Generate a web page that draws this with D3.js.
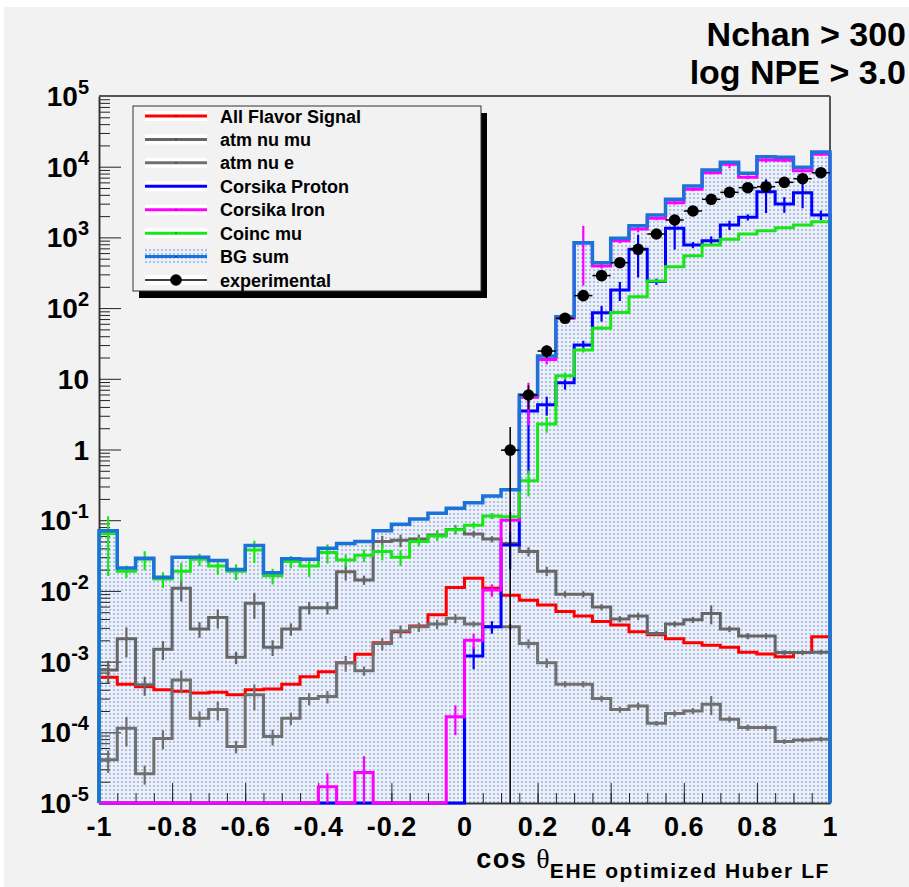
<!DOCTYPE html>
<html><head><meta charset="utf-8">
<script src="https://cdn.jsdelivr.net/npm/d3@7"></script>
<style>
html,body{margin:0;padding:0;background:#ffffff;}
svg{display:block;font-family:"Liberation Sans",Arial,Helvetica,sans-serif;}
</style></head><body>
<svg id="c" width="909" height="887"></svg>
<script>
// ---------------- DATA (40 bins from -1 to 1) ----------------
const binLow = -1, binHigh = 1, nBins = 40;
const yMin = 1e-5, yMax = 1e5;
const xTickValues = [-1, -0.8, -0.6, -0.4, -0.2, 0, 0.2, 0.4, 0.6, 0.8, 1];
const yDecadeExponents = [-5, -4, -3, -2, -1, 0, 1, 2, 3, 4, 5];
const titleLines = ["Nchan > 300", "log NPE > 3.0"];

const signal = [6.0e-4,4.8e-4,4.4e-4,4.0e-4,3.8e-4,3.6e-4,3.7e-4,3.4e-4,4.0e-4,4.1e-4,
  4.8e-4,6.1e-4,7.2e-4,9.6e-4,1.27e-3,1.85e-3,2.65e-3,3.2e-3,4.6e-3,1.12e-2,
  1.51e-2,1.09e-2,8.7e-3,7.4e-3,6.3e-3,5.1e-3,4.4e-3,3.7e-3,3.3e-3,2.65e-3,
  2.4e-3,2.1e-3,1.85e-3,1.7e-3,1.6e-3,1.36e-3,1.28e-3,1.17e-3,1.34e-3,2.25e-3];

const atmNuMu = [7.6e-4,2.1e-3,4.7e-4,1.5e-3,1.09e-2,2.9e-3,4.2e-3,1.15e-3,6.7e-3,1.6e-3,
  2.9e-3,5.8e-3,5.8e-3,1.87e-2,1.43e-2,5.0e-2,5.2e-2,5.4e-2,6.2e-2,7.4e-2,
  6.4e-2,5.4e-2,4.7e-2,3.6e-2,1.9e-2,9.0e-3,9.0e-3,5.9e-3,4.0e-3,4.4e-3,
  2.5e-3,3.4e-3,3.9e-3,4.8e-3,2.9e-3,2.3e-3,2.3e-3,1.34e-3,1.34e-3,1.36e-3];

const atmNuE = [4.1e-5,1.14e-4,2.6e-5,8.2e-5,5.5e-4,1.58e-4,2.1e-4,6.3e-5,3.4e-4,8.7e-5,
  1.58e-4,3.0e-4,3.2e-4,9.6e-4,7.4e-4,1.8e-3,2.7e-3,3.1e-3,3.4e-3,4.1e-3,
  3.4e-3,3.1e-3,3.1e-3,1.8e-3,9.6e-4,4.8e-4,4.8e-4,3.0e-4,2.1e-4,2.35e-4,
  1.34e-4,1.85e-4,2.0e-4,2.5e-4,1.53e-4,1.17e-4,1.17e-4,7.4e-5,7.8e-5,8.0e-5];

const atmNuErr = [0.35,0.45,0.3,0.3,0.35,0.25,0.3,0.2,0.4,0.25,
  0.2,0.2,0.2,0.25,0.15,0.2,0.2,0.15,0.15,0.15,
  0.1,0.1,0.1,0.15,0.15,0.1,0.1,0.1,0.1,0.12,
  0.08,0.1,0.1,0.3,0.1,0.1,0.1,0.08,0.08,0.08];

const corsikaProton = [0,0,0,0,0,0,0,0,0,0,
  0,0,0,0,0,0,0,0,0,0,
  1.2e-3,3.1e-3,4.46e-2,3.5,4.3,8.8,30,86,180,679,
  237,1346,780,898,1497,1924,4430,2966,4295,2075];
const protonErr = [0,0,0,0,0,0,0,0,0,0,
  0,0,0,0,0,0,0,0,0,0,
  0.35,0.2,0.55,0.87,0.3,0.2,0.15,0.25,0.3,0.6,
  0.1,0.5,0.1,0.15,0.15,0.1,0.5,0.25,0.4,0.15];

const corsikaIron = [0,0,0,0,0,0,0,0,0,0,
  0,0,1.7e-5,0,2.7e-5,0,0,0,0,1.66e-4,
  2.0e-3,1.03e-2,0.10,5.5,18.8,72,830,394,898,1315,
  1862,3100,4790,8220,10800,7080,12440,12300,8790,14970];
const ironErr = [0,0,0,0,0,0,0,0,0,0,
  0,0,0.55,0,0.7,0,0,0,0,0.45,
  0.25,0.2,0.3,0.6,0.15,0.1,0.75,0.08,0.08,0.1,
  0.06,0.06,0.06,0.05,0.12,0.06,0.08,0.06,0.06,0.05];

const coincMu = [0.065,0.019,0.028,0.0147,0.019,0.028,0.0225,0.019,0.038,0.0164,
  0.026,0.0225,0.035,0.0274,0.032,0.036,0.030,0.050,0.060,0.073,
  0.085,0.115,0.112,0.36,2.3,11,25.5,52,87,145,
  242,385,551,780,940,1117,1245,1371,1497,1667];
const coincErr = [0.75,0.2,0.3,0.25,0.3,0.2,0.25,0.25,0.35,0.25,
  0.2,0.3,0.3,0.2,0.2,0.25,0.25,0.15,0.15,0.12,
  0.1,0.1,0.12,0.4,0.25,0.12,0.08,0.06,0.05,0.05,
  0.04,0.04,0.04,0.03,0.03,0.03,0.03,0.03,0.03,0.03];

const bgSum = [0.071,0.021,0.029,0.0156,0.030,0.030,0.027,0.020,0.044,0.018,
  0.0286,0.028,0.040,0.047,0.050,0.071,0.0875,0.104,0.125,0.147,
  0.177,0.22,0.27,5.9,21,75.5,841,439,971,1465,
  2075,3460,5340,8970,11530,8070,13870,13600,9810,16150];

const experimental = [null,null,null,null,null,null,null,null,null,null,
  null,null,null,null,null,null,null,null,null,null,
  null,null,0.98,5.9,24.7,71.7,150,288,439,679,
  1117,1762,2362,3460,4345,5050,5210,6010,6760,8220];
const experimentalErr = [null,null,null,null,null,null,null,null,null,null,
  null,null,null,null,null,null,null,null,null,null,
  null,null,1.1,2.2,5,8.5,12,17,21,26,
  33,42,49,59,66,71,72,78,82,91];

const legendLabels = ["All Flavor Signal","atm nu mu","atm nu e","Corsika Proton","Corsika Iron","Coinc mu","BG sum","experimental"];
const legendColors = ["#ff0000","#666666","#707070","#0000ff","#ff00ff","#19e619","#1b72d8","#000000"];

// ---------------- DRAWING ----------------
const svg = d3.select("#c");
const W = 909, H = 887;
const defs = svg.append("defs");
const pat = defs.append("pattern").attr("id","dots").attr("width",4).attr("height",4)
  .attr("patternUnits","userSpaceOnUse");
pat.append("rect").attr("width",4).attr("height",4).attr("fill","#edf0f7");
pat.append("rect").attr("x",1).attr("y",1).attr("width",2).attr("height",2).attr("fill","#adc0ea");

svg.append("rect").attr("width",W).attr("height",H).attr("fill","#ffffff");
svg.append("rect").attr("x",4).attr("y",7).attr("width",W-4).attr("height",H-7).attr("fill","#f2f2f2");

const plot = {left: 99, right: 830, top: 96, bottom: 803};
const x = d3.scaleLinear().domain([binLow, binHigh]).range([plot.left, plot.right]);
const y = d3.scaleLog().domain([yMin, yMax]).range([plot.bottom, plot.top]);
const edges = d3.range(nBins + 1).map(i => binLow + i * (binHigh - binLow) / nBins);
const centers = d3.range(nBins).map(i => (edges[i] + edges[i + 1]) / 2);
const yv = v => (v > yMin) ? y(Math.min(v, yMax)) : y(yMin);

function stepPoints(vals) {
  const pts = [[x(edges[0]), y(yMin)]];
  vals.forEach((v, i) => { pts.push([x(edges[i]), yv(v)]); pts.push([x(edges[i + 1]), yv(v)]); });
  pts.push([x(edges[nBins]), y(yMin)]);
  return pts;
}
const line = d3.line();

// BG sum fill
svg.append("path").attr("d", line(stepPoints(bgSum)) + "Z").attr("fill", "url(#dots)").attr("stroke", "none");

// Axes
const axG = svg.append("g").attr("stroke-width", 1);
const yMajor = yDecadeExponents.map(e => Math.pow(10, e));
const yMinor = [];
yDecadeExponents.slice(0, -1).forEach(e => { for (let k = 2; k <= 9; k++) yMinor.push(k * Math.pow(10, e)); });
axG.append("g").attr("transform", `translate(${plot.left},0)`)
  .call(d3.axisLeft(y).tickValues(yMinor).tickSize(-11).tickSizeOuter(0).tickFormat(""));
axG.append("g").attr("transform", `translate(${plot.left},0)`)
  .call(d3.axisLeft(y).tickValues(yMajor).tickSize(-22).tickSizeOuter(0).tickFormat(""));
const xMinor = d3.range(nBins + 1).map(i => edges[i]);
axG.append("g").attr("transform", `translate(0,${plot.bottom})`)
  .call(d3.axisBottom(x).tickValues(xMinor).tickSize(-10).tickSizeOuter(0).tickFormat(""));
const xAx = axG.append("g").attr("transform", `translate(0,${plot.bottom})`)
  .call(d3.axisBottom(x).tickValues(xTickValues).tickSize(-20).tickSizeOuter(0).tickPadding(14)
    .tickFormat(v => String(+v.toFixed(1))));
xAx.selectAll("text").attr("font-size", 27).attr("font-weight", "bold").attr("fill", "#000")
  .attr("font-family", "Liberation Sans, Arial, sans-serif").attr("letter-spacing", 1);
axG.selectAll(".tick line").attr("stroke", "#222");
axG.selectAll(".domain").attr("stroke", "#333").attr("stroke-width", 1.5);

// y tick labels
const yLab = svg.append("g").attr("font-weight", "bold").attr("fill", "#000");
yDecadeExponents.forEach(e => {
  const t = yLab.append("text").attr("x", 89).attr("y", y(Math.pow(10, e)) + 10)
    .attr("text-anchor", "end").attr("font-size", 28);
  if (e === 0) t.text("1");
  else if (e === 1) t.text("10");
  else {
    t.append("tspan").text("10");
    t.append("tspan").attr("font-size", 20).attr("dy", -12).text(String(e));
  }
});

// frame top & right
svg.append("line").attr("x1", plot.left).attr("x2", plot.right).attr("y1", plot.top).attr("y2", plot.top)
  .attr("stroke", "#555").attr("stroke-width", 2);
svg.append("line").attr("x1", plot.right).attr("x2", plot.right).attr("y1", plot.top).attr("y2", plot.bottom)
  .attr("stroke", "#555").attr("stroke-width", 2);

// histograms
const hg = svg.append("g");
function drawHist(vals, errs, color, width) {
  const g = hg.append("g");
  g.append("path").attr("d", line(stepPoints(vals))).attr("fill", "none").attr("stroke", color)
    .attr("stroke-width", width).attr("stroke-linejoin", "miter");
  if (errs) {
    const idx = d3.range(nBins).filter(i => vals[i] > 0 && errs[i] > 0);
    g.selectAll("line.err").data(idx).join("line").attr("class", "err")
      .attr("x1", i => x(centers[i])).attr("x2", i => x(centers[i]))
      .attr("y1", i => yv(vals[i] * (1 - errs[i]))).attr("y2", i => yv(vals[i] * (1 + errs[i])))
      .attr("stroke", color).attr("stroke-width", 2.2);
  }
}
drawHist(signal, null, legendColors[0], 3);
drawHist(atmNuMu, atmNuErr, legendColors[1], 3);
drawHist(atmNuE, atmNuErr, legendColors[2], 3);
drawHist(corsikaProton, protonErr, legendColors[3], 3);
drawHist(corsikaIron, ironErr, legendColors[4], 3);
drawHist(coincMu, coincErr, legendColors[5], 3);
drawHist(bgSum, null, legendColors[6], 3.5);

// experimental
const eg = svg.append("g");
const expIdx = d3.range(nBins).filter(i => experimental[i] != null);
eg.selectAll("line.h").data(expIdx).join("line").attr("class", "h")
  .attr("x1", i => x(edges[i])).attr("x2", i => x(edges[i + 1]))
  .attr("y1", i => yv(experimental[i])).attr("y2", i => yv(experimental[i]))
  .attr("stroke", "#000").attr("stroke-width", 1.5);
eg.selectAll("line.v").data(expIdx).join("line").attr("class", "v")
  .attr("x1", i => x(centers[i])).attr("x2", i => x(centers[i]))
  .attr("y1", i => yv(experimental[i] - experimentalErr[i])).attr("y2", i => yv(experimental[i] + experimentalErr[i]))
  .attr("stroke", "#000").attr("stroke-width", 1.5);
eg.selectAll("circle").data(expIdx).join("circle")
  .attr("cx", i => x(centers[i])).attr("cy", i => yv(experimental[i])).attr("r", 5.8).attr("fill", "#000");

// legend
const lg = svg.append("g");
const lx0 = 133, ly0 = 106, lw = 348, lh = 185;
lg.append("rect").attr("x", lx0 + 6).attr("y", ly0 + 7).attr("width", lw).attr("height", lh).attr("fill", "#000");
lg.append("rect").attr("x", lx0).attr("y", ly0).attr("width", lw).attr("height", lh)
  .attr("fill", "#f2f2f2").attr("stroke", "#333").attr("stroke-width", 1);
const entryY = d3.scaleLinear().domain([0, legendLabels.length - 1]).range([116, 280]);
legendLabels.forEach((lab, i) => {
  const cy = entryY(i);
  if (lab === "BG sum") {
    lg.append("rect").attr("x", 145).attr("y", cy - 8).attr("width", 62).attr("height", 16).attr("fill", "url(#dots)");
  } else {
    lg.append("rect").attr("x", 145).attr("y", cy - 5).attr("width", 62).attr("height", 10).attr("fill", "#ffffff");
  }
  lg.append("line").attr("x1", 145).attr("x2", 207).attr("y1", cy).attr("y2", cy)
    .attr("stroke", legendColors[i]).attr("stroke-width", lab === "experimental" ? 1.5 : 3);
  if (lab === "experimental") lg.append("circle").attr("cx", 176).attr("cy", cy).attr("r", 5.8).attr("fill", "#000");
  else lg.append("rect").attr("x", 175.5).attr("y", cy - 0.5).attr("width", 1).attr("height", 1).attr("fill", "#000");
  lg.append("text").attr("x", 220).attr("y", cy + 6.5).attr("font-size", 18).attr("font-weight", "bold")
    .attr("fill", "#000").text(lab);
});

// title
titleLines.forEach((t, i) => {
  svg.append("text").attr("x", 906).attr("y", 46 + i * 38).attr("text-anchor", "end")
    .attr("font-size", 34).attr("font-weight", "bold").attr("fill", "#000").text(t);
});

// x axis title
const xt = svg.append("text").attr("x", 830).attr("y", 868).attr("text-anchor", "end").attr("fill", "#000");
xt.append("tspan").attr("font-size", 27).attr("font-weight", "bold").attr("letter-spacing", 1.5).text("cos ");
xt.append("tspan").attr("font-size", 28).attr("font-family", "Liberation Serif, DejaVu Serif, serif").text("θ");
xt.append("tspan").attr("font-size", 21).attr("font-weight", "bold").attr("letter-spacing", 1.6).attr("dy", 10).text("EHE optimized Huber LF");
</script>
</body></html>
